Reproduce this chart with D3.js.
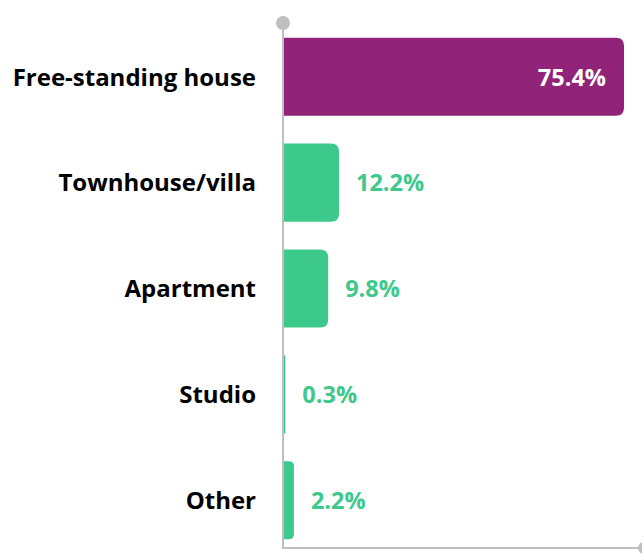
<!DOCTYPE html>
<html lang="en">
<head>
<meta charset="UTF-8">
<title>Dwelling type</title>
<script src="https://d3js.org/d3.v7.min.js"></script>
<style>
  body { margin: 0; background: #fff; }
  svg { display: block; }
  .cat { font-family: "Open Sans", "Noto Sans", sans-serif; font-weight: 700; font-size: 24px; fill: #000; }
  .val { font-family: "Open Sans", "Noto Sans", sans-serif; font-weight: 700; font-size: 23.5px; }
</style>
</head>
<body>
<svg id="chart" width="642" height="556"></svg>
<script>
var categories = ["Free-standing house", "Townhouse/villa", "Apartment", "Studio", "Other"];
var values = [75.4, 12.2, 9.8, 0.3, 2.2];
var valueLabels = ["75.4%", "12.2%", "9.8%", "0.3%", "2.2%"];

var purple = "#912479";
var green = "#3dc98b";
var axisGrey = "#bfbfbf";

var svg = d3.select("#chart");

var x = d3.scaleLinear().domain([0, 75.4]).range([284, 624]);
var y = d3.scaleBand().domain(categories).range([24, 553])
  .paddingInner(0.262).paddingOuter(0.13);

// bars: square on the left, rounded on the right
function barPath(d, i) {
  var x0 = x(0), x1 = x(values[i]), y0 = y(d), h = y.bandwidth();
  var r = Math.min(8, (x1 - x0) / 2);
  return "M" + x0 + "," + y0 +
    "H" + (x1 - r) +
    "Q" + x1 + "," + y0 + " " + x1 + "," + (y0 + r) +
    "V" + (y0 + h - r) +
    "Q" + x1 + "," + (y0 + h) + " " + (x1 - r) + "," + (y0 + h) +
    "H" + x0 + "Z";
}

svg.selectAll("path.bar")
  .data(categories)
  .enter()
  .append("path")
  .attr("class", "bar")
  .attr("d", barPath)
  .attr("fill", function (d, i) { return i == 0 ? purple : green; });

// axes
svg.append("line")
  .attr("x1", x(0) - 1).attr("x2", x(0) - 1)
  .attr("y1", 22).attr("y2", 549)
  .attr("stroke", axisGrey).attr("stroke-width", 2);
svg.append("line")
  .attr("x1", x(0) - 2).attr("x2", 641)
  .attr("y1", 548).attr("y2", 548)
  .attr("stroke", axisGrey).attr("stroke-width", 2);
svg.append("circle")
  .attr("cx", x(0) - 1).attr("cy", 23).attr("r", 7)
  .attr("fill", axisGrey);
svg.append("circle")
  .attr("cx", 644).attr("cy", 548).attr("r", 6)
  .attr("fill", axisGrey);

// category labels
svg.selectAll("text.cat")
  .data(categories)
  .enter()
  .append("text")
  .attr("class", "cat")
  .attr("x", 256)
  .attr("y", function (d) { return y(d) + y.bandwidth() / 2 + 8.7; })
  .attr("text-anchor", "end")
  .text(function (d) { return d; });

// value labels
svg.selectAll("text.val")
  .data(categories)
  .enter()
  .append("text")
  .attr("class", "val")
  .attr("x", function (d, i) { return i == 0 ? x(values[i]) - 18 : x(values[i]) + 17; })
  .attr("y", function (d) { return y(d) + y.bandwidth() / 2 + 8.7; })
  .attr("text-anchor", function (d, i) { return i == 0 ? "end" : "start"; })
  .attr("fill", function (d, i) { return i == 0 ? "#fff" : green; })
  .text(function (d, i) { return valueLabels[i]; });
</script>
</body>
</html>
